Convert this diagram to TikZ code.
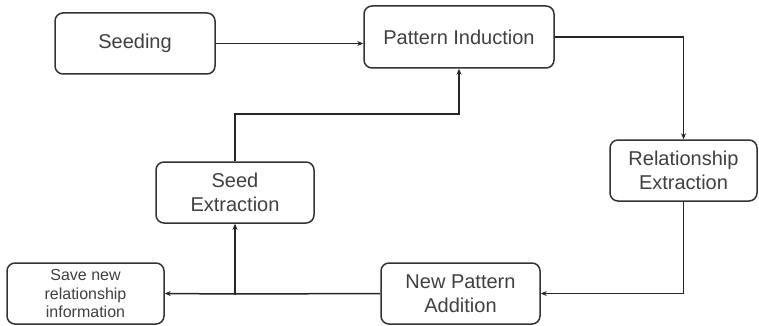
\documentclass[tikz,border=0pt]{standalone}
\usepackage{fontspec}
\setmainfont{Liberation Sans}
\usetikzlibrary{
arrows.meta,
calc,
positioning,
}

\begin{document}
\begin{tikzpicture}[x=1pt, y=-1pt,
		stage/.style={draw=black!80, line width=1.5pt, rounded corners=8pt, align=center,
			text=black!75, font=\fontsize{20}{23.5}\selectfont, inner sep=0pt},
		flow/.style={draw=black!85, line width=1.5pt, -{Stealth[length=6pt, width=5pt]}},
	]
			\useasboundingbox (0,0) rectangle (759,326);

			\node[stage, minimum width=160pt, minimum height=61pt] (seeding) at (135,43.5) {Seeding};
			\node[stage, minimum width=190pt, minimum height=62pt] (induct) at (459,37) {Pattern Induction};
			\node[stage, minimum width=147pt, minimum height=61pt] (relext) at (683.5,170.5) {Relationship\\Extraction};
			\node[stage, minimum width=159pt, minimum height=61pt] (addpat) at (460.5,293.5) {New Pattern\\Addition};
			\node[stage, minimum width=158pt, minimum height=61pt] (seedext) at (235,192.5) {Seed\\Extraction};
			\node[stage, minimum width=157pt, minimum height=61pt, font=\fontsize{16}{18.5}\selectfont] (save) at (85.5,293.5) {Save new\\relationship\\information};

			\coordinate (split) at (235,294);
			\coordinate (back) at (235,114);

			\draw[flow] (seeding.east) -- (seeding.east -| induct.west);
			\draw[flow] (induct.east) -| (relext.north);
			\draw[flow] (relext.south) |- (addpat.east);
			\draw[flow, -] (addpat.west) -- (split);
			\draw[flow] (split) -- (seedext.south);
			\draw[flow] (split) -- (save.east);
			\draw[flow] (seedext.north) -- (back) -| (induct.south);
		\end{tikzpicture}
\end{document}
